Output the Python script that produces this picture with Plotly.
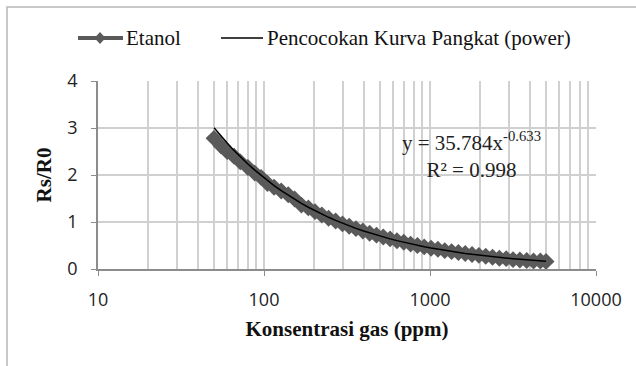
import plotly.graph_objects as go

# Data
konsentrasi = [50, 55, 60, 66, 72, 80, 88, 96, 105, 115, 127, 140, 153, 168, 185, 203,
               223, 245, 270, 297, 326, 358, 394, 433, 476, 523, 575, 632, 695, 764,
               840, 923, 1015, 1116, 1227, 1349, 1483, 1630, 1792, 1970, 2166, 2381,
               2618, 2878, 3164, 3478, 3824, 4204, 4622, 5000]
rs_r0 = [2.78, 2.62, 2.50, 2.40, 2.28, 2.16, 2.04, 1.95, 1.82, 1.74, 1.66, 1.58, 1.49,
         1.36, 1.30, 1.22, 1.15, 1.08, 1.02, 0.96, 0.91, 0.86, 0.81, 0.76, 0.72, 0.68,
         0.64, 0.60, 0.57, 0.53, 0.50, 0.47, 0.44, 0.42, 0.39, 0.37, 0.35, 0.33, 0.31,
         0.29, 0.27, 0.25, 0.23, 0.22, 0.20, 0.19, 0.18, 0.17, 0.17, 0.16]

# Power trendline coefficients shown on the chart
fit_a = 35.784
fit_b = -0.633
fit_y = [fit_a * x ** fit_b for x in konsentrasi]

x_tickvals = [10, 100, 1000, 10000]
x_ticktext = ["10", "100", "1000", "10000"]
y_tickvals = [0, 1, 2, 3, 4]
series_names = ["Etanol", "Pencocokan Kurva Pangkat (power)"]

W, H = 636, 366
L, R, T, B = 98, 40, 81, 97
PW, PH = W - L - R, H - T - B

def px(x):
    return (x - L) / PW

def py(y):
    return (H - B - y) / PH

serif = "Liberation Serif, Times New Roman, serif"
sans = "Open Sans, Liberation Sans, sans-serif"
grid = "#d0d0d0"
axis_c = "#8c8c8c"
data_c = "#5a5a5a"

fig = go.Figure()
fig.add_trace(go.Scatter(
    x=konsentrasi, y=rs_r0, name=series_names[0], mode="lines+markers",
    line=dict(color=data_c, width=4),
    marker=dict(symbol="diamond", size=13, color=data_c),
    showlegend=False,
))
fig.add_trace(go.Scatter(
    x=konsentrasi, y=fit_y, name=series_names[1], mode="lines",
    line=dict(color="#000000", width=1.5),
    showlegend=False,
))

# Trendline equation label
fig.add_annotation(
    x=px(471), y=py(155), xref="paper", yref="paper", xanchor="center", yanchor="middle",
    text="y = 35.784x<sup>-0.633</sup><br>R² = 0.998", showarrow=False,
    font=dict(family=serif, size=21, color="#222"), align="center",
)

# Outer chart frame (left and top edges visible)
fig.add_shape(type="rect", xref="paper", yref="paper",
              x0=px(7), x1=px(900), y0=py(900), y1=py(7),
              line=dict(color="#b8b8b8", width=1.5), fillcolor="rgba(0,0,0,0)", layer="below")

# Legend (drawn manually to match the long symbol lines)
ly = 38
fig.add_shape(type="line", xref="paper", yref="paper", x0=px(78), x1=px(123), y0=py(ly), y1=py(ly),
              line=dict(color=data_c, width=4))
fig.add_shape(type="path", xref="paper", yref="paper",
              path=f"M {px(100)},{py(ly-6)} L {px(105.5)},{py(ly)} L {px(100)},{py(ly+6)} L {px(94.5)},{py(ly)} Z",
              fillcolor=data_c, line=dict(color=data_c, width=0))
fig.add_annotation(x=px(125), y=py(ly), xref="paper", yref="paper", xanchor="left", yanchor="middle",
                   text=series_names[0], showarrow=False, borderpad=0,
                   font=dict(family=serif, size=21, color="#111"))
fig.add_shape(type="line", xref="paper", yref="paper", x0=px(221), x1=px(263), y0=py(ly), y1=py(ly),
              line=dict(color="#000000", width=1.5))
fig.add_annotation(x=px(266), y=py(ly), xref="paper", yref="paper", xanchor="left", yanchor="middle",
                   text=series_names[1], showarrow=False, borderpad=0,
                   font=dict(family=serif, size=21, color="#111"))

fig.update_layout(
    width=W, height=H,
    margin=dict(l=L, r=R, t=T, b=B),
    paper_bgcolor="white", plot_bgcolor="white",
    showlegend=False,
    xaxis=dict(
        type="log", range=[1, 4], tickvals=x_tickvals, ticktext=x_ticktext,
        showgrid=True, gridcolor=grid, gridwidth=1.5,
        minor=dict(dtick="D1", showgrid=True, gridcolor=grid, gridwidth=1.5, ticks=""),
        showline=True, linecolor=axis_c, linewidth=1.5,
        ticks="outside", ticklen=5, tickcolor=axis_c, ticklabelstandoff=9,
        tickfont=dict(family=sans, size=18, color="#222"),
        title=dict(text="<b>Konsentrasi gas (ppm)</b>", font=dict(family=serif, size=21, color="#111"),
                   standoff=11),
        zeroline=False,
    ),
    yaxis=dict(
        range=[0, 4], tickvals=y_tickvals,
        showgrid=True, gridcolor=grid, gridwidth=1.5,
        showline=True, linecolor=axis_c, linewidth=1.5,
        ticks="outside", ticklen=5, tickcolor=axis_c, ticklabelstandoff=10,
        tickfont=dict(family=sans, size=18, color="#222"),
        title=dict(text="<b>Rs/R0</b>", font=dict(family=serif, size=21, color="#111"),
                   standoff=10),
        zeroline=False,
    ),
)

fig.write_html("out.html")
